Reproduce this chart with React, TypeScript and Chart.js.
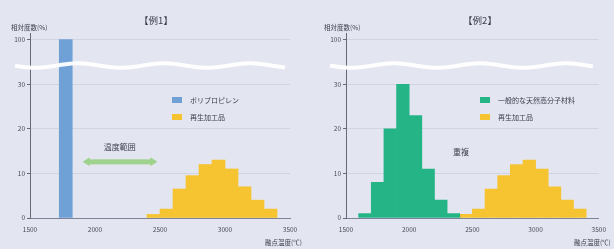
import React, { useEffect, useRef } from "react";
import { Chart, registerables } from "chart.js";

Chart.register(...registerables);

// ---- data ----
const xTicks = [1500, 2000, 2500, 3000, 3500];
const yTicks = [0, 10, 20, 30, 100];
const title1 = "【例1】";
const title2 = "【例2】";
const yAxisTitle = "相対度数(%)";
const xAxisTitle = "融点温度(℃)";

const singleBins = [1775];
const singleValues = [100];

const narrowBins = [2450, 2550, 2650, 2750, 2850, 2950, 3050, 3150, 3250, 3350];
const narrowValues = [0.8, 2, 6.5, 9.5, 12, 13, 11, 7, 4, 2];

const broadBins = [1650, 1750, 1850, 1950, 2050, 2150, 2250, 2350];
const broadValues = [1, 8, 20, 30, 23, 11, 4, 1];

const legend1 = ["ポリプロピレン", "再生加工品"];
const legend2 = ["一般的な天然高分子材料", "再生加工品"];
const note1 = "温度範囲";
const note2 = "重複";

// ---- styling ----
const FONT = "'Noto Sans CJK JP', 'Noto Sans', sans-serif";
const BLUE = "#6fa1d6";
const YELLOW = "#f6c331";
const GREEN = "#25b486";
const TEXT = "#3a3d4c";

// axis break: values above 30 are compressed so 100 sits one step above 30
const compress = (v: number) => (v <= 30 ? v : 30 + (v - 30) / 7);

const toPoints = (xs: number[], ys: number[]) =>
  xs.map((x, i) => ({ x, y: compress(ys[i]) }));

const decorPlugin = {
  id: "decor",
  afterDatasetsDraw(chart: any, _args: any, opts: any) {
    const { ctx, chartArea } = chart;
    const xs = chart.scales.x;
    const ys = chart.scales.y;
    ctx.save();

    // break wave
    const wy = ys.getPixelForValue(34.2);
    ctx.strokeStyle = "rgba(255,255,255,0.95)";
    ctx.lineWidth = 4;
    ctx.beginPath();
    for (let px = chartArea.left - opts.waveExtend; px <= chartArea.right - 5; px += 1) {
      const py = wy + 2.2 * Math.sin(((px - chartArea.left) / 86) * 2 * Math.PI + 1.2);
      if (px === chartArea.left - opts.waveExtend) ctx.moveTo(px, py);
      else ctx.lineTo(px, py);
    }
    ctx.stroke();

    // title
    ctx.fillStyle = TEXT;
    ctx.textBaseline = "middle";
    ctx.textAlign = "center";
    ctx.font = `9.5px ${FONT}`;
    ctx.fillText(opts.title, opts.titleX, 20);

    // axis titles
    ctx.font = `6.5px ${FONT}`;
    ctx.textAlign = "left";
    ctx.fillText(yAxisTitle, opts.yTitleX, 28);
    ctx.textAlign = "right";
    ctx.fillText(xAxisTitle, chartArea.right + 12, 243);

    // legend
    ctx.textAlign = "left";
    ctx.font = `7px ${FONT}`;
    opts.legend.forEach((item: any, i: number) => {
      const ly = 100 + i * 17;
      ctx.fillStyle = item.color;
      ctx.fillRect(opts.legendX, ly - 3, 10, 6);
      ctx.fillStyle = TEXT;
      ctx.fillText(item.label, opts.legendX + 18, ly);
    });

    // note
    ctx.font = `8px ${FONT}`;
    ctx.textAlign = "center";
    ctx.fillText(opts.note.text, xs.getPixelForValue(opts.note.x), ys.getPixelForValue(opts.note.y));

    // arrow
    if (opts.arrow) {
      const a = opts.arrow;
      const x1 = xs.getPixelForValue(a.from);
      const x2 = xs.getPixelForValue(a.to);
      const ay = ys.getPixelForValue(a.y);
      ctx.fillStyle = "#9fd28c";
      ctx.fillRect(x1 + 5, ay - 2.5, x2 - x1 - 10, 5);
      ctx.beginPath();
      ctx.moveTo(x1, ay);
      ctx.lineTo(x1 + 7, ay - 4.5);
      ctx.lineTo(x1 + 7, ay + 4.5);
      ctx.closePath();
      ctx.fill();
      ctx.beginPath();
      ctx.moveTo(x2, ay);
      ctx.lineTo(x2 - 7, ay - 4.5);
      ctx.lineTo(x2 - 7, ay + 4.5);
      ctx.closePath();
      ctx.fill();
    }
    ctx.restore();
  },
};

function makeConfig(datasets: any[], leftW: number, rightPad: number, decor: any): any {
  return {
    type: "bar",
    data: { datasets },
    plugins: [decorPlugin],
    options: {
      animation: false,
      responsive: false,
      devicePixelRatio: 1,
      layout: { padding: { top: 33, right: rightPad, bottom: 0, left: 0 } },
      plugins: {
        legend: { display: false },
        tooltip: { enabled: false },
        decor,
      },
      scales: {
        x: {
          type: "linear",
          min: xTicks[0],
          max: xTicks[xTicks.length - 1],
          offset: false,
          afterBuildTicks: (s: any) => {
            s.ticks = xTicks.map((v) => ({ value: v }));
          },
          afterFit: (s: any) => {
            s.height = 31;
          },
          grid: { display: false, drawTicks: false },
          border: { display: true, color: "#7d8399", width: 1 },
          ticks: {
            padding: 8,
            color: "#4a4d5a",
            font: { size: 6.5, family: FONT },
            maxRotation: 0,
            autoSkip: false,
            callback: (value: number) => String(value),
          },
        },
        y: {
          type: "linear",
          min: 0,
          max: 41.5,
          afterBuildTicks: (s: any) => {
            s.ticks = yTicks.map((v) => ({ value: compress(v) }));
          },
          afterFit: (s: any) => {
            s.width = leftW;
          },
          grid: {
            color: "rgba(190,196,216,0.5)",
            tickColor: "#666a78",
            tickLength: 3,
            drawTicks: true,
          },
          border: { display: true, color: "#666a78", width: 1 },
          ticks: {
            padding: 2,
            color: "#4a4d5a",
            font: { size: 6.5, family: FONT },
            callback: (value: number) => {
              const t = yTicks.find((v) => Math.abs(compress(v) - value) < 1e-6);
              return t === undefined ? "" : String(t);
            },
          },
        },
      },
    },
  };
}

const barDefaults = {
  grouped: false,
  barPercentage: 1,
  categoryPercentage: 1,
  borderWidth: 0,
};

function ChartCanvas({ config }: { config: any }) {
  const ref = useRef<HTMLCanvasElement>(null);
  useEffect(() => {
    if (!ref.current) return;
    const chart = new Chart(ref.current, config);
    return () => chart.destroy();
  }, []);
  return <canvas ref={ref} width={307} height={249} style={{ display: "block", width: 307, height: 249 }} />;
}

export default function App() {
  const config1 = makeConfig(
    [
      { ...barDefaults, label: legend1[0], data: toPoints(singleBins, singleValues), backgroundColor: BLUE },
      { ...barDefaults, label: legend1[1], data: toPoints(narrowBins, narrowValues), backgroundColor: YELLOW },
    ],
    30,
    17,
    {
      title: title1,
      titleX: 156,
      yTitleX: 11,
      waveExtend: 15,
      legendX: 172,
      legend: [
        { label: legend1[0], color: BLUE },
        { label: legend1[1], color: YELLOW },
      ],
      note: { text: note1, x: 2190, y: 16 },
      arrow: { from: 1905, to: 2480, y: 12.6 },
    }
  );
  const config2 = makeConfig(
    [
      { ...barDefaults, label: legend2[0], data: toPoints(broadBins, broadValues), backgroundColor: GREEN },
      { ...barDefaults, label: legend2[1], data: toPoints(narrowBins, narrowValues), backgroundColor: YELLOW },
    ],
    39,
    14,
    {
      title: title2,
      titleX: 173,
      yTitleX: 17,
      waveExtend: 16,
      legendX: 173,
      legend: [
        { label: legend2[0], color: GREEN },
        { label: legend2[1], color: YELLOW },
      ],
      note: { text: note2, x: 2410, y: 14.8 },
      arrow: null,
    }
  );
  return (
    <div
      style={{
        position: "absolute",
        left: 0,
        top: 0,
        width: 614,
        height: 249,
        background: "#e3e6f0",
        display: "flex",
      }}
    >
      <ChartCanvas config={config1} />
      <ChartCanvas config={config2} />
    </div>
  );
}
